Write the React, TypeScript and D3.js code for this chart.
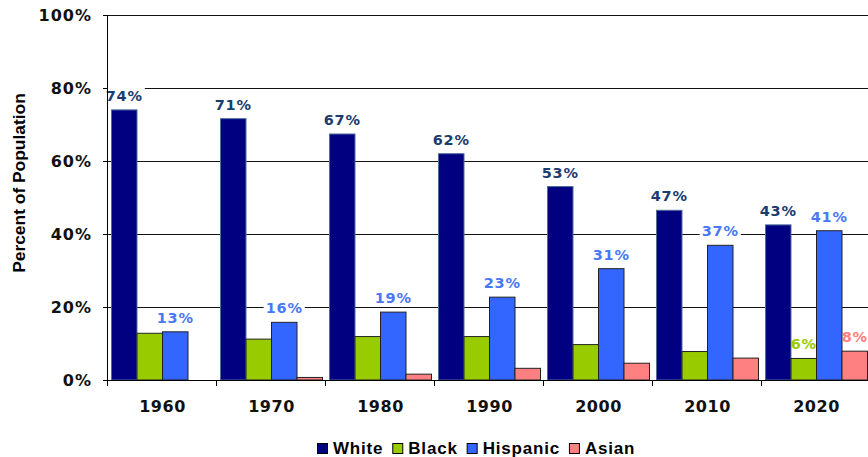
import { useEffect, useRef } from "react";
import * as d3 from "d3";

const years = ["1960", "1970", "1980", "1990", "2000", "2010", "2020"];
const seriesNames = ["White", "Black", "Hispanic", "Asian"];
const whiteValues = [74, 71.6, 67.4, 62, 53, 46.5, 42.5];
const blackValues = [12.8, 11.2, 11.9, 11.9, 9.7, 7.8, 5.9];
const hispanicValues = [13.2, 15.8, 18.6, 22.7, 30.5, 36.9, 40.9];
const asianValues = [0, 0.7, 1.6, 3.2, 4.6, 6.0, 7.9];
// labels as printed on the chart (null = no label)
const whiteLabels = ["74%", "71%", "67%", "62%", "53%", "47%", "43%"];
const blackLabels = [null, null, null, null, null, null, "6%"];
const hispanicLabels = ["13%", "16%", "19%", "23%", "31%", "37%", "41%"];
const asianLabels = [null, null, null, null, null, null, "8%"];
const yTicks = [0, 20, 40, 60, 80, 100];

const colors = ["#000080", "#99cc00", "#3366ff", "#ff8080"];
const strokes = ["#4f6f99", "#222", "#222", "#222"];
const labelColors = ["#1b3c6e", "#99cc00", "#4a78f5", "#ff8080"];

const W = 868;
const H = 457;
const margin = { left: 108, top: 15, right: 871, bottom: 380 };

export default function App() {
  const ref = useRef<SVGSVGElement>(null);

  useEffect(() => {
    const svg = d3.select(ref.current);
    svg.selectAll("*").remove();

    const values = [whiteValues, blackValues, hispanicValues, asianValues];
    const labels = [whiteLabels, blackLabels, hispanicLabels, asianLabels];

    const x = d3.scaleBand().domain(years).range([margin.left, margin.right]);
    const xs = d3
      .scaleBand()
      .domain(seriesNames)
      .range([3.5, x.bandwidth() - 3.5]);
    const y = d3.scaleLinear().domain([0, 100]).range([margin.bottom, margin.top]);
    const crisp = (v: number) => Math.round(v) + 0.5;

    // grid
    svg
      .append("g")
      .selectAll("line")
      .data(yTicks.filter((t) => t > 0))
      .join("line")
      .attr("x1", margin.left)
      .attr("x2", W)
      .attr("y1", (d) => crisp(y(d)))
      .attr("y2", (d) => crisp(y(d)))
      .attr("stroke", "#111")
      .attr("stroke-width", 1);

    // label backgrounds + bars + texts
    const labelG = svg.append("g");
    const barG = svg.append("g");
    const textG = svg.append("g");

    seriesNames.forEach((s, si) => {
      const rows = years.map((yr, i) => ({ yr, v: values[si][i], label: labels[si][i] }));
      barG
        .selectAll(`rect.s${si}`)
        .data(rows.filter((d) => d.v > 0))
        .join("rect")
        .attr("class", `s${si}`)
        .attr("x", (d) => (x(d.yr) as number) + (xs(s) as number))
        .attr("y", (d) => y(d.v))
        .attr("width", xs.bandwidth())
        .attr("height", (d) => y(0) - y(d.v))
        .attr("fill", colors[si])
        .attr("stroke", strokes[si])
        .attr("stroke-width", 1);

      rows
        .filter((d) => d.label)
        .forEach((d) => {
          const cx = (x(d.yr) as number) + (xs(s) as number) + xs.bandwidth() / 2;
          const t = textG
            .append("text")
            .attr("x", cx)
            .attr("y", y(d.v) - 9)
            .attr("text-anchor", "middle")
            .attr("font-family", "DejaVu Sans")
            .attr("font-weight", "bold")
            .attr("font-size", 14.5)
            .attr("letter-spacing", 0.8)
            .attr("fill", labelColors[si])
            .text(d.label as string);
          const bb = (t.node() as SVGTextElement).getBBox();
          labelG
            .append("rect")
            .attr("x", bb.x - 2)
            .attr("y", bb.y)
            .attr("width", bb.width + 4)
            .attr("height", bb.height)
            .attr("fill", "#fff");
        });
    });

    // axes
    const axG = svg.append("g").attr("stroke", "#000").attr("stroke-width", 1);
    axG
      .append("line")
      .attr("x1", crisp(margin.left) - 1)
      .attr("x2", crisp(margin.left) - 1)
      .attr("y1", margin.top)
      .attr("y2", crisp(margin.bottom));
    axG
      .append("line")
      .attr("x1", margin.left)
      .attr("x2", W)
      .attr("y1", crisp(margin.bottom))
      .attr("y2", crisp(margin.bottom));
    axG
      .selectAll("line.yt")
      .data(yTicks)
      .join("line")
      .attr("class", "yt")
      .attr("x1", margin.left - 5)
      .attr("x2", margin.left)
      .attr("y1", (d) => crisp(y(d)))
      .attr("y2", (d) => crisp(y(d)));
    axG
      .selectAll("line.xt")
      .data(years)
      .join("line")
      .attr("class", "xt")
      .attr("x1", (d) => crisp(x(d) as number) - 1)
      .attr("x2", (d) => crisp(x(d) as number) - 1)
      .attr("y1", margin.bottom)
      .attr("y2", margin.bottom + 6);

    svg
      .append("g")
      .selectAll("text")
      .data(yTicks)
      .join("text")
      .attr("x", 92)
      .attr("y", (d) => y(d))
      .attr("dy", "0.36em")
      .attr("text-anchor", "end")
      .attr("font-family", "DejaVu Sans")
      .attr("font-weight", "bold")
      .attr("font-size", 16)
      .attr("letter-spacing", 1)
      .attr("fill", "#111")
      .text((d) => `${d}%`);

    svg
      .append("g")
      .selectAll("text")
      .data(years)
      .join("text")
      .attr("x", (d) => (x(d) as number) + x.bandwidth() / 2)
      .attr("y", 412)
      .attr("text-anchor", "middle")
      .attr("font-family", "DejaVu Sans")
      .attr("font-weight", "bold")
      .attr("font-size", 16)
      .attr("letter-spacing", 0.5)
      .attr("fill", "#111")
      .text((d) => d);

    svg
      .append("text")
      .attr("transform", `translate(25,183) rotate(-90)`)
      .attr("text-anchor", "middle")
      .attr("font-family", "Liberation Sans")
      .attr("font-weight", "bold")
      .attr("font-size", 17.4)
      .attr("fill", "#000")
      .text("Percent of Population");

    // legend
    const lg = svg.append("g");
    let lx = 317;
    seriesNames.forEach((s, si) => {
      lg.append("rect")
        .attr("x", lx + 0.5)
        .attr("y", 443.5)
        .attr("width", 10)
        .attr("height", 10)
        .attr("fill", colors[si])
        .attr("stroke", "#000")
        .attr("stroke-width", 1);
      const t = lg
        .append("text")
        .attr("x", lx + 16)
        .attr("y", 453.5)
        .attr("font-family", "Liberation Sans")
        .attr("font-weight", "bold")
        .attr("font-size", 17)
        .attr("letter-spacing", 0.8)
        .attr("fill", "#000")
        .text(s);
      const w = (t.node() as SVGTextElement).getComputedTextLength();
      lx += 16 + w + 9;
    });
  }, []);

  return (
    <svg
      ref={ref}
      width={W}
      height={H}
      style={{ position: "absolute", left: 0, top: 0, background: "#fff" }}
    />
  );
}
